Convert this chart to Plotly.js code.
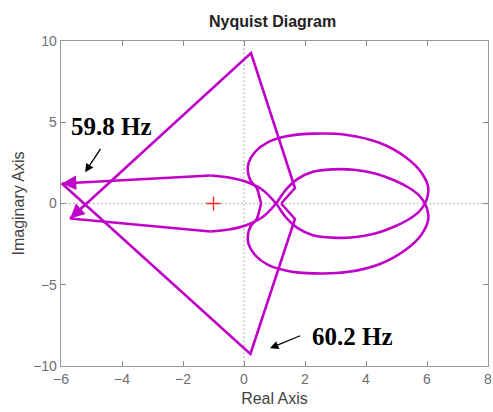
<!DOCTYPE html>
<html>
<head>
<meta charset="utf-8">
<script src="https://cdn.plot.ly/plotly-3.0.1.min.js"></script>
<style>
  html, body { margin: 0; padding: 0; background: #fff; }
  #plot { width: 493px; height: 412px; }
</style>
</head>
<body>
<div id="plot"></div>
<script>
// Nyquist curve, split into smooth arcs and straight jumps
// positive frequencies: from w=0 near the origin, round the loops, then the 60 Hz jump
const posArcRe = [0.56, 0.5, 0.42, 0.22, 0.13, 0.15, 0.36, 0.79, 1.44, 2.3, 3.38, 4.46, 5.3, 5.82, 6.04, 6.02, 5.93, 5.74, 5.38, 4.9, 4.3, 3.6, 2.9, 2.26, 1.75, 1.35, 1.05, 0.6, 0.05, -0.5, -1.1];
const posArcIm = [0.0, 0.45, 0.95, 1.4, 1.9, 2.5, 3.17, 3.78, 4.15, 4.3, 4.22, 3.72, 2.85, 1.9, 1.0, 0.45, 0.0, -0.5, -1.0, -1.45, -1.85, -2.08, -2.1, -1.95, -1.5, -0.8, 0.0, 0.85, 1.35, 1.6, 1.72];
const posJumpRe = [-1.1, -5.97, 0.21, 1.67, 1.22];
const posJumpIm = [1.72, 1.23, -9.26, -0.95, 0.0];

// negative frequencies (mirror branch)
const negArcRe = [0.56, 0.5, 0.42, 0.22, 0.13, 0.15, 0.36, 0.79, 1.44, 2.3, 3.38, 4.46, 5.3, 5.82, 6.04, 6.02, 5.93, 5.74, 5.38, 4.9, 4.3, 3.6, 2.9, 2.26, 1.75, 1.35, 1.05, 0.6, 0.05, -0.5, -1.1];
const negArcIm = [0.0, -0.45, -0.95, -1.4, -1.9, -2.5, -3.17, -3.78, -4.15, -4.3, -4.22, -3.72, -2.85, -1.9, -1.0, -0.45, 0.0, 0.5, 1.0, 1.45, 1.85, 2.08, 2.1, 1.95, 1.5, 0.8, 0.0, -0.85, -1.35, -1.6, -1.72];
const negJumpRe = [-1.1, -5.7, 0.23, 1.67, 1.22];
const negJumpIm = [-1.72, -0.92, 9.26, 0.95, 0.0];

// critical point
const critRe = [-1];
const critIm = [0];

const xTicks = [-6, -4, -2, 0, 2, 4, 6, 8];
const yTicks = [-10, -5, 0, 5, 10];

const purple = '#c000c8';
const grey = '#6e6e6e';

function arc(re, im) {
  return {x: re, y: im, mode: 'lines', type: 'scatter', hoverinfo: 'skip',
          line: {color: purple, width: 2.6, shape: 'spline', smoothing: 1}};
}
function jump(re, im) {
  return {x: re, y: im, mode: 'lines', type: 'scatter', hoverinfo: 'skip',
          line: {color: purple, width: 2.6}};
}

const traces = [
  arc(posArcRe, posArcIm), jump(posJumpRe, posJumpIm),
  arc(negArcRe, negArcIm), jump(negJumpRe, negJumpIm),
  {x: critRe, y: critIm, mode: 'markers', type: 'scatter',
   marker: {symbol: 'cross-thin', size: 10, line: {color: '#ff2020', width: 1.3}}}
];

// small direction arrows at the two far-left corners
function dirArrow(re, im, i, j) {
  const t = 0.07;
  return {x: re[i], y: im[i], ax: re[i] + t * (re[j] - re[i]), ay: im[i] + t * (im[j] - im[i]),
          xref: 'x', yref: 'y', axref: 'x', ayref: 'y', text: '', showarrow: true,
          arrowhead: 2, arrowsize: 1.1, arrowwidth: 2.6, arrowcolor: purple, standoff: 0};
}

const labelFont = {family: 'Liberation Serif, Times New Roman, serif', size: 25, color: '#000'};

const annotations = [
  dirArrow(posJumpRe, posJumpIm, 1, 0),
  dirArrow(negJumpRe, negJumpIm, 1, 2),
  {x: -4.34, y: 4.75, xref: 'x', yref: 'y', text: '<b>59.8 Hz</b>', showarrow: false, font: labelFont},
  {x: 3.57, y: -8.16, xref: 'x', yref: 'y', text: '<b>60.2 Hz</b>', showarrow: false, font: labelFont},
  {x: -5.21, y: 1.92, ax: -4.67, ay: 3.45, xref: 'x', yref: 'y', axref: 'x', ayref: 'y',
   text: '', showarrow: true, arrowhead: 2, arrowsize: 1.3, arrowwidth: 1.3, arrowcolor: '#000'},
  {x: 0.85, y: -8.91, ax: 1.89, ay: -8.1, xref: 'x', yref: 'y', axref: 'x', ayref: 'y',
   text: '', showarrow: true, arrowhead: 2, arrowsize: 1.3, arrowwidth: 1.3, arrowcolor: '#000'}
];

const dotted = {color: '#b4b4b4', width: 1.5, dash: '1.5px,2.5px'};

const layout = {
  width: 493, height: 412,
  margin: {l: 61, r: 5, t: 41, b: 46},
  paper_bgcolor: '#fff', plot_bgcolor: '#fff',
  showlegend: false,
  font: {family: 'Liberation Sans, Arial, sans-serif', color: grey},
  title: {text: '<b>Nyquist Diagram</b>', x: 0.553, xanchor: 'center', y: 0.948, yanchor: 'middle',
          font: {size: 16, color: '#222'}},
  xaxis: {
    range: [-6, 8], tickvals: xTicks, ticks: 'inside', ticklen: 5, tickcolor: '#888',
    showline: true, linecolor: '#999', linewidth: 1.3, mirror: 'ticks',
    showgrid: false, zeroline: false, tickfont: {size: 14, color: grey},
    title: {text: 'Real Axis', font: {size: 16, color: '#444'}, standoff: 6}
  },
  yaxis: {
    range: [-10, 10], tickvals: yTicks, ticks: 'inside', ticklen: 5, tickcolor: '#888',
    showline: true, linecolor: '#999', linewidth: 1.3, mirror: 'ticks',
    showgrid: false, zeroline: false, tickfont: {size: 14, color: grey},
    title: {text: 'Imaginary Axis', font: {size: 16, color: '#444'}, standoff: 4}
  },
  shapes: [
    {type: 'line', xref: 'x', yref: 'paper', x0: 0, x1: 0, y0: 0, y1: 1, line: dotted, layer: 'below'},
    {type: 'line', xref: 'paper', yref: 'y', x0: 0, x1: 1, y0: 0, y1: 0, line: dotted, layer: 'below'}
  ],
  annotations: annotations
};

Plotly.newPlot('plot', traces, layout, {displayModeBar: false, staticPlot: true});
</script>
</body>
</html>
